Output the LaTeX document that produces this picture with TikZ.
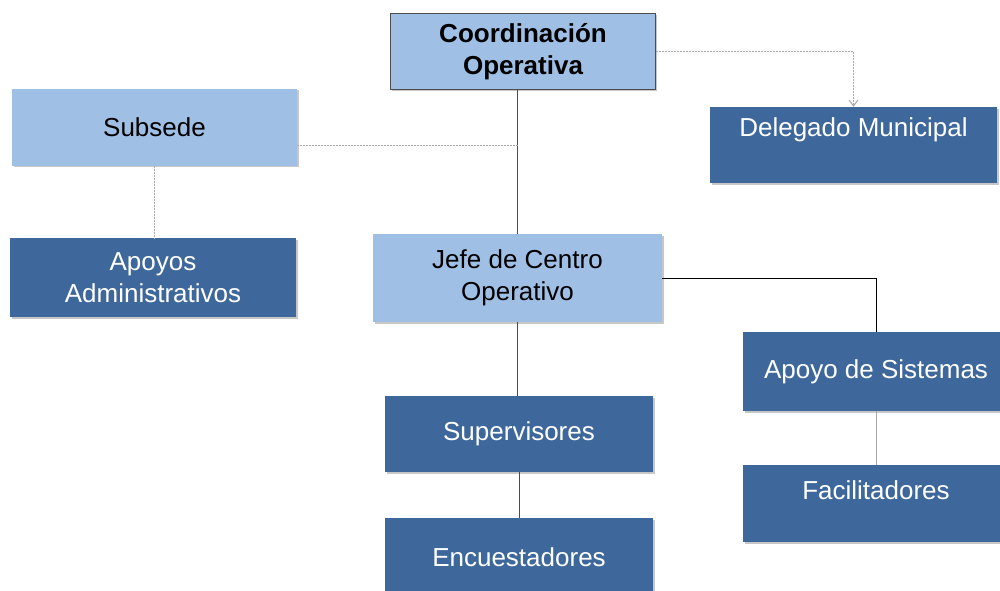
\documentclass[tikz,border=0pt]{standalone}
\usepackage{fontspec}
\setmainfont{Liberation Sans}
\usetikzlibrary{shadows,arrows.meta}
\definecolor{lightb}{RGB}{160,191,229}
\definecolor{darkb}{RGB}{62,104,156}
\definecolor{dotc}{RGB}{170,170,170}
\tikzset{
  base/.style={rectangle, inner sep=0pt, align=center, font=\fontsize{26}{32}\selectfont,
    drop shadow={shadow xshift=1.5pt, shadow yshift=-1.5pt, fill=gray!55, opacity=0.8}},
  lightbox/.style={base, fill=lightb, text=black},
  darkbox/.style={base, fill=darkb, text=white},
  txt/.style={inner sep=0pt, align=center, font=\fontsize{26}{32}\selectfont, text=white},
  solidline/.style={draw=gray!60!black, line width=1pt},
  blackline/.style={draw=black, line width=1pt},
  dotline/.style={draw=dotc, line width=1pt, dash pattern=on 2pt off 1pt},
}
\begin{document}
\begin{tikzpicture}[x=1pt,y=-1pt]
\useasboundingbox (0,0) rectangle (1000,590);
\node[lightbox, draw=gray!60!black, line width=1.5pt, minimum width=265pt, minimum height=76pt,
  font=\bfseries\fontsize{26}{32}\selectfont] (coord) at (523,51.5) {Coordinación\\Operativa};
\node[lightbox, minimum width=285pt, minimum height=77pt] (sub) at (154.5,127) {Subsede};
\node[darkbox, minimum width=287pt, minimum height=76pt] (del) at (853.5,145) {};
\node[txt] (delt) at (853.5,130) {Delegado Municipal};
\node[darkbox, minimum width=286pt, minimum height=79pt] (apo) at (153,277.5) {Apoyos\\Administrativos};
\node[lightbox, minimum width=289pt, minimum height=88pt] (jefe) at (517.5,278) {Jefe de Centro\\Operativo};
\node[darkbox, minimum width=266pt, minimum height=79pt] (sis) at (876,371.5) {Apoyo de Sistemas};
\node[darkbox, minimum width=268pt, minimum height=76pt] (sup) at (519,434) {Supervisores};
\node[darkbox, minimum width=266pt, minimum height=77pt] (fac) at (876,503.5) {};
\node[txt] (fact) at (876,490) {Facilitadores};
\node[darkbox, minimum width=268pt, minimum height=78pt] (enc) at (519,557) {Encuestadores};

\draw[solidline] (jefe.north) -- (jefe.north |- coord.south);
\draw[dotline] ([yshift=-18pt]sub.east) -- ([yshift=-18pt]sub.east -| jefe.north);
\draw[dotline] (sub.south) -- (sub.south |- apo.north);
\draw[dotline, -{Straight Barb[length=6pt,width=9pt]}] (coord.east) -| (del.north);
\draw[blackline] (jefe.east) -| (sis.north);
\draw[solidline] (jefe.south) -- (jefe.south |- sup.north);
\draw[solidline] (sup.south) -- (enc.north);
\draw[draw=gray!70, line width=1pt] (sis.south) -- (fac.north);
\end{tikzpicture}
\end{document}
